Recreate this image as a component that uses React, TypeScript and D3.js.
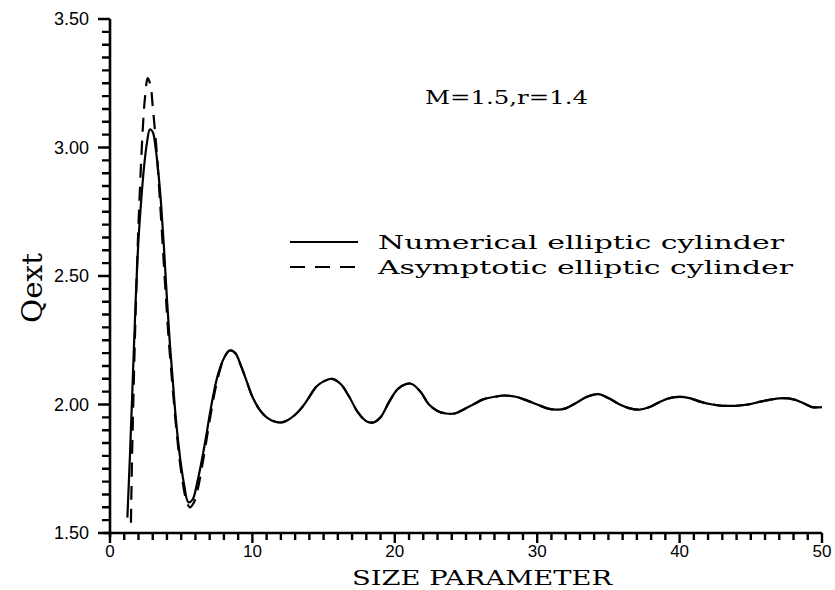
import { useEffect, useRef } from 'react';
import * as d3 from 'd3';

// size parameter / Qext
const numX = [1.22, 1.4, 1.6, 1.8, 2.0, 2.2, 2.4, 2.6, 2.8, 3.0, 3.2, 3.4, 3.6, 3.8, 4.0, 4.2, 4.4, 4.6, 4.8, 5.0, 5.2, 5.5, 5.8, 6.1, 6.4, 6.7, 7.0, 7.3, 7.6, 8.0, 8.4, 8.8,
  9.2, 9.6, 10.0, 10.5, 11.0, 11.5, 12.0, 12.5, 13.0, 13.5, 14.0, 14.5, 15.0, 15.6, 16.2, 16.8, 17.4, 18.0, 18.5, 19.0, 19.6, 20.2, 20.8, 21.2, 21.8, 22.4, 23.0, 23.6, 24.2, 24.8,
  25.5, 26.2, 27.0, 27.7, 28.5, 29.3, 30.0, 30.7, 31.4, 32.0, 32.7, 33.5, 34.3, 35.0, 35.8, 36.5, 37.2, 37.9, 38.6, 39.3, 40.0, 40.7, 41.5, 42.3, 43.0, 43.9, 44.8, 45.6, 46.5,
  47.3, 48.0, 48.7, 49.3, 50.0];
const numY = [1.56, 1.80, 2.10, 2.40, 2.64, 2.80, 2.93, 3.02, 3.07, 3.06, 3.00, 2.90, 2.77, 2.60, 2.41, 2.24, 2.10, 1.96, 1.85, 1.76, 1.69, 1.62, 1.63, 1.69, 1.77, 1.86, 1.96, 2.05, 2.12, 2.18, 2.21, 2.20,
  2.15, 2.09, 2.03, 1.98, 1.95, 1.935, 1.93, 1.94, 1.96, 1.99, 2.03, 2.07, 2.09, 2.10, 2.08, 2.03, 1.97, 1.935, 1.93, 1.95, 2.01, 2.06, 2.08, 2.08, 2.05, 2.00, 1.975, 1.965, 1.965, 1.98,
  2.00, 2.02, 2.03, 2.035, 2.03, 2.015, 2.00, 1.985, 1.98, 1.985, 2.005, 2.03, 2.04, 2.025, 2.00, 1.985, 1.98, 1.99, 2.01, 2.025, 2.03, 2.025, 2.01, 2.00, 1.995, 1.995, 2.00, 2.01, 2.02,
  2.025, 2.02, 2.005, 1.99, 1.99];

const asyX = [1.47, 1.55, 1.7, 1.85, 2.0, 2.15, 2.3, 2.45, 2.65, 2.85, 3.0, 3.15, 3.3, 3.5, 3.7, 3.9, 4.1, 4.3, 4.5, 4.7, 4.9, 5.1, 5.3, 5.6, 5.9, 6.2, 6.5, 6.8, 7.1, 7.4, 7.7, 8.0, 8.4, 8.8];
const asyY = [1.54, 1.80, 2.15, 2.45, 2.70, 2.90, 3.07, 3.19, 3.27, 3.24, 3.16, 3.07, 2.97, 2.80, 2.62, 2.44, 2.27, 2.13, 2.00, 1.88, 1.78, 1.70, 1.64, 1.60, 1.62, 1.68, 1.77, 1.87, 1.97, 2.06, 2.13, 2.18, 2.21, 2.20];

const xTicks = [0, 10, 20, 30, 40, 50];
const yTicks = [1.5, 2.0, 2.5, 3.0, 3.5];

const App = () => {
  const ref = useRef(null);

  useEffect(() => {
    const svg = d3.select(ref.current);
    svg.selectAll('*').remove();

    const x = d3.scaleLinear().domain([0, 50]).range([110, 822]);
    const y = d3.scaleLinear().domain([1.5, 3.5]).range([533, 19]);

    const numerical = numX.map((v, i) => [v, numY[i]]);
    const tail = numerical.filter(d => d[0] > 8.8);
    const asymptotic = asyX.map((v, i) => [v, asyY[i]]).concat(tail);

    const line = d3.line().x(d => x(d[0])).y(d => y(d[1])).curve(d3.curveCatmullRom);

    const sans = 'Liberation Sans, Arial, sans-serif';
    const serif = 'DejaVu Serif, Liberation Serif, serif';

    const x0 = x(0), y0 = y(1.5);

    // tick marks as one path: minor every 1 / 0.05, major at the labels
    const xt = d3.range(0, 51).map(d => `M${x(d)},${y0}V${y0 + (d % 10 === 0 ? 10 : 7)}`).join('');
    const yt = d3.range(0, 41).map(d => `M${x0},${y(1.5 + d * 0.05)}H${x0 - (d % 10 === 0 ? 12 : 8)}`).join('');
    svg.append('path').attr('d', xt + yt).attr('fill', 'none').attr('stroke', '#000').attr('stroke-width', 2.4);

    // axis lines
    svg.append('path').attr('d', `M103,${y0}H${x(50)}`).attr('stroke', '#000').attr('stroke-width', 2.6).attr('fill', 'none');
    svg.append('path').attr('d', `M${x0},${y(3.5)}V${y0 + 4}`).attr('stroke', '#000').attr('stroke-width', 2.6).attr('fill', 'none');

    svg.append('g').selectAll('text').data(xTicks).join('text')
      .attr('x', d => x(d)).attr('y', 557)
      .attr('text-anchor', 'middle')
      .attr('font-family', sans).attr('font-size', 17)
      .text(d => d);
    svg.append('g').selectAll('text').data(yTicks).join('text')
      .attr('x', 89).attr('y', d => y(d) + 6)
      .attr('text-anchor', 'end')
      .attr('font-family', sans).attr('font-size', 18)
      .text(d => d3.format('.2f')(d));

    // curves
    svg.append('path').datum(numerical).attr('d', line)
      .attr('fill', 'none').attr('stroke', '#000').attr('stroke-width', 2.2);
    svg.append('path').datum(asymptotic).attr('d', line)
      .attr('fill', 'none').attr('stroke', '#000').attr('stroke-width', 2.2)
      .attr('stroke-dasharray', '14,9');

    svg.append('text').attr('x', 482).attr('y', 585).attr('text-anchor', 'middle')
      .attr('font-family', serif).attr('font-size', 21)
      .attr('textLength', 260).attr('lengthAdjust', 'spacingAndGlyphs')
      .text('SIZE PARAMETER');

    svg.append('text').attr('transform', 'translate(42,288) rotate(-90)').attr('text-anchor', 'middle')
      .attr('font-family', serif).attr('font-size', 27)
      .attr('textLength', 70).attr('lengthAdjust', 'spacingAndGlyphs')
      .text('Qext');

    svg.append('text').attr('x', 425).attr('y', 104)
      .attr('font-family', serif).attr('font-size', 19)
      .attr('textLength', 163).attr('lengthAdjust', 'spacingAndGlyphs')
      .text('M=1.5,r=1.4');

    // legend
    const lg = svg.append('g');
    lg.append('line').attr('x1', 290).attr('x2', 358).attr('y1', 242).attr('y2', 242)
      .attr('stroke', '#000').attr('stroke-width', 2);
    lg.append('line').attr('x1', 290).attr('x2', 358).attr('y1', 267).attr('y2', 267)
      .attr('stroke', '#000').attr('stroke-width', 2).attr('stroke-dasharray', '15,10');
    lg.append('text').attr('x', 378).attr('y', 249)
      .attr('font-family', serif).attr('font-size', 19)
      .attr('textLength', 406).attr('lengthAdjust', 'spacingAndGlyphs')
      .text('Numerical elliptic cylinder');
    lg.append('text').attr('x', 378).attr('y', 274)
      .attr('font-family', serif).attr('font-size', 19)
      .attr('textLength', 415).attr('lengthAdjust', 'spacingAndGlyphs')
      .text('Asymptotic elliptic cylinder');
  }, []);

  return (
    <svg ref={ref} width={835} height={590} style={{ position: 'absolute', left: 0, top: 0, background: '#fff' }} />
  );
};

export default App;
